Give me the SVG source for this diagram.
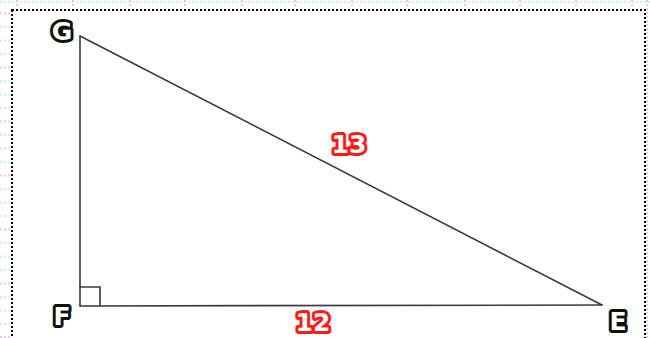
<svg xmlns="http://www.w3.org/2000/svg" width="650" height="338" viewBox="0 0 650 338">
  <defs>
    <style>
      .edge { stroke: #3a3a3a; stroke-width: 1.6; fill: none; stroke-linecap: round; }
      .lbl { font-family: "DejaVu Sans", "Liberation Sans", sans-serif; font-weight: bold; font-size: 25px; text-anchor: middle; dominant-baseline: central; paint-order: stroke; stroke-linejoin: round; fill: #ffffff; stroke-width: 6; }
      .pt { stroke: #111111; }
      .num { stroke: #ff1a1a; }
      .minor { stroke: #b8f0e4; stroke-width: 1.5; stroke-dasharray: 2 2; }
      .major { stroke: #e8c8f4; stroke-width: 2; stroke-dasharray: 2 2; }
    </style>
  </defs>
  <rect x="0" y="0" width="650" height="338" fill="#ffffff"/>
  <g id="background-grid">
    <path class="minor" d="M0 27H10 M0 40.5H10 M0 54H10 M0 81H10 M0 94.5H10 M0 108H10 M0 135H10 M0 148.5H10 M0 162H10 M0 189H10 M0 202.5H10 M0 216H10 M0 243H10 M0 256.5H10 M0 270H10 M0 297H10 M0 310.5H10 M0 324H10"/>
    <path class="major" d="M0 13.5H10 M0 67.5H10 M0 121.5H10 M0 175.5H10 M0 229.5H10 M0 283.5H10 M0 337H10"/>
    <path class="minor" d="M0 2H650"/>
    <path class="major" d="M17 0V8 M73 0V8 M130 0V8 M185 0V8 M242 0V8 M295 0V8 M352 0V8 M407 0V8 M465 0V8 M520 0V8 M576 0V8 M632 0V8"/>
    <path class="major" d="M647 0V338"/>
  </g>
  <rect id="frame" x="12" y="10" width="633" height="340" fill="none" stroke="#000000" stroke-width="2" stroke-dasharray="2 2"/>
  <g id="connectors">
    <line class="edge" x1="80" y1="36" x2="80" y2="306"/>
    <line class="edge" x1="80" y1="306" x2="602" y2="305"/>
    <line class="edge" x1="80" y1="36" x2="602" y2="305"/>
    <polyline class="edge" points="80,287 100,287 100,306"/>
  </g>
  <g id="node-G"><text class="lbl pt" x="62" y="31">G</text></g>
  <g id="node-F"><text class="lbl pt" x="62" y="316">F</text></g>
  <g id="node-E"><text class="lbl pt" x="618" y="321">E</text></g>
  <g id="label-13"><text class="lbl num" x="349" y="144">13</text></g>
  <g id="label-12"><text class="lbl num" x="313" y="322">12</text></g>
</svg>
